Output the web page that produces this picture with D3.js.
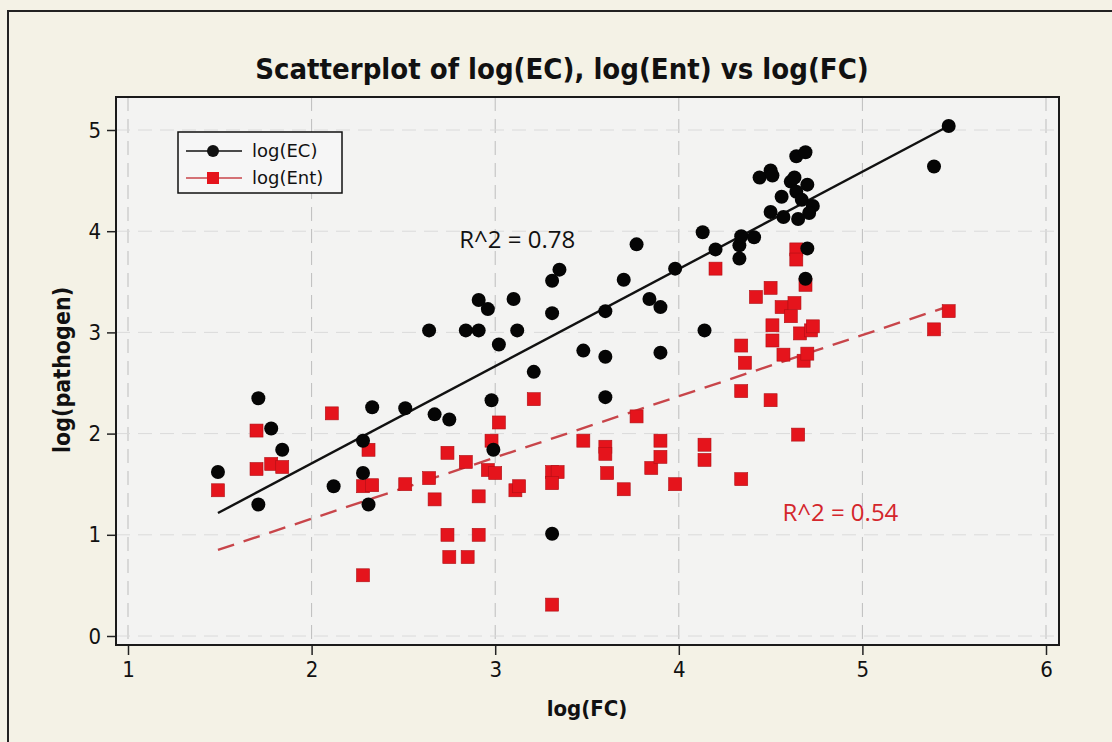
<!DOCTYPE html>
<html>
<head>
<meta charset="utf-8">
<script src="https://cdn.jsdelivr.net/npm/d3@7"></script>
<style>
  html, body { margin: 0; padding: 0; background: #f4f2e6; }
  svg { display: block; }
  .tick text { font-family: "DejaVu Sans Condensed", "DejaVu Sans", sans-serif; font-stretch: condensed; }
</style>
</head>
<body>
<div id="chart"></div>
<script>
// log(FC) vs log(EC)
const ecX = [1.49, 1.71, 1.71, 1.78, 1.84, 2.12, 2.28, 2.28, 2.31, 2.33, 2.51, 2.64, 2.67, 2.75, 2.84,
  2.91, 2.91, 2.96, 2.98, 2.99, 3.02, 3.10, 3.12, 3.21, 3.31, 3.35, 3.31, 3.31, 3.48, 3.60,
  3.60, 3.60, 3.70, 3.77, 3.84, 3.90, 3.90, 3.98, 4.13, 4.14, 4.20, 4.33, 4.33, 4.34, 4.41,
  4.44, 4.50, 4.51, 4.50, 4.56, 4.57, 4.61, 4.63, 4.64, 4.64, 4.69, 4.70, 4.67, 4.73, 4.71,
  4.65, 4.70, 4.69, 5.39, 5.47];
const ecY = [1.62, 2.35, 1.30, 2.05, 1.84, 1.48, 1.93, 1.61, 1.30, 2.26, 2.25, 3.02, 2.19, 2.14, 3.02,
  3.02, 3.32, 3.23, 2.33, 1.84, 2.88, 3.33, 3.02, 2.61, 3.51, 3.62, 3.19, 1.01, 2.82, 3.21,
  2.76, 2.36, 3.52, 3.87, 3.33, 3.25, 2.80, 3.63, 3.99, 3.02, 3.82, 3.86, 3.73, 3.95, 3.94,
  4.53, 4.60, 4.55, 4.19, 4.34, 4.14, 4.49, 4.53, 4.39, 4.74, 4.78, 4.46, 4.31, 4.25, 4.18,
  4.12, 3.83, 3.53, 4.64, 5.04];

// log(FC) vs log(Ent)
const entX = [1.49, 1.70, 1.70, 1.78, 1.84, 2.11, 2.31, 2.28, 2.33, 2.28, 2.51, 2.64, 2.67, 2.74, 2.74,
  2.75, 2.84, 2.85, 2.91, 2.91, 2.96, 2.98, 3.00, 3.02, 3.11, 3.13, 3.21, 3.31, 3.34, 3.31,
  3.31, 3.48, 3.60, 3.60, 3.61, 3.70, 3.77, 3.85, 3.90, 3.90, 3.98, 4.14, 4.14, 4.20, 4.34,
  4.36, 4.34, 4.34, 4.42, 4.50, 4.50, 4.51, 4.51, 4.56, 4.57, 4.61, 4.63, 4.64, 4.64, 4.65,
  4.66, 4.68, 4.69, 4.70, 4.72, 4.73, 5.39, 5.47];
const entY = [1.44, 2.03, 1.65, 1.70, 1.67, 2.20, 1.84, 1.48, 1.49, 0.60, 1.50, 1.56, 1.35, 1.81, 1.00,
  0.78, 1.72, 0.78, 1.38, 1.00, 1.64, 1.93, 1.61, 2.11, 1.44, 1.48, 2.34, 1.62, 1.62, 1.51,
  0.31, 1.93, 1.87, 1.80, 1.61, 1.45, 2.17, 1.66, 1.93, 1.77, 1.50, 1.89, 1.74, 3.63, 2.87,
  2.70, 2.42, 1.55, 3.35, 3.44, 2.33, 3.07, 2.92, 3.25, 2.78, 3.16, 3.29, 3.82, 3.72, 1.99,
  2.99, 2.72, 3.47, 2.79, 3.02, 3.06, 3.03, 3.21];

// fitted lines (intercept, slope) and R^2 labels
const ecFit = { a: -0.217, b: 0.961, r2: "R^2 = 0.78", labelX: 3.12, labelY: 3.91 };
const entFit = { a: -0.051, b: 0.605, r2: "R^2 = 0.54", labelX: 4.88, labelY: 1.22 };

const xTicks = [1, 2, 3, 4, 5, 6];
const yTicks = [0, 1, 2, 3, 4, 5];

const W = 1112, H = 742;
const plot = { left: 116, right: 1059, top: 97, bottom: 645 };

const svg = d3.select("#chart").append("svg")
    .attr("width", W)
    .attr("height", H);

// outer frame
svg.append("rect")
    .attr("x", 8).attr("y", 11)
    .attr("width", W + 20).attr("height", H + 20)
    .attr("fill", "#f4f2e6")
    .attr("stroke", "#222").attr("stroke-width", 2);

const x = d3.scaleLinear().domain([1, 6]).range([128, 1046]);
const y = d3.scaleLinear().domain([0, 5]).range([636, 130]);

svg.append("rect")
    .attr("x", plot.left).attr("y", plot.top)
    .attr("width", plot.right - plot.left).attr("height", plot.bottom - plot.top)
    .attr("fill", "#f3f3f2");

// grid
svg.append("g").selectAll("line")
    .data(xTicks).enter().append("line")
    .attr("x1", d => x(d)).attr("x2", d => x(d))
    .attr("y1", plot.top).attr("y2", plot.bottom)
    .attr("stroke", "#bdbdbd").attr("stroke-width", 1)
    .attr("stroke-dasharray", "14,8");

svg.append("g").selectAll("line")
    .data(yTicks).enter().append("line")
    .attr("y1", d => y(d)).attr("y2", d => y(d))
    .attr("x1", plot.left).attr("x2", plot.right)
    .attr("stroke", "#dadada").attr("stroke-width", 1)
    .attr("stroke-dasharray", "14,8");

// axes
const axisX = d3.axisBottom(x).tickValues(xTicks).tickSize(10).tickPadding(6).tickFormat(d3.format("d"));
const axisY = d3.axisLeft(y).tickValues(yTicks).tickSize(9).tickPadding(6).tickFormat(d3.format("d"));

const gx = svg.append("g")
    .attr("transform", "translate(0," + plot.bottom + ")")
    .call(axisX);
gx.select(".domain").remove();
gx.selectAll(".tick line").attr("stroke", "#222").attr("stroke-width", 1.5);
gx.selectAll(".tick text").attr("font-size", 22).attr("fill", "#111");

const gy = svg.append("g")
    .attr("transform", "translate(" + plot.left + ",0)")
    .call(axisY);
gy.select(".domain").remove();
gy.selectAll(".tick line").attr("stroke", "#222").attr("stroke-width", 1.5);
gy.selectAll(".tick text").attr("font-size", 22).attr("fill", "#111");

// plot frame
svg.append("rect")
    .attr("x", plot.left).attr("y", plot.top)
    .attr("width", plot.right - plot.left).attr("height", plot.bottom - plot.top)
    .attr("fill", "none")
    .attr("stroke", "#1a1a1a").attr("stroke-width", 2);

// fit lines
function fitLine(fx, fit) {
    const ext = d3.extent(fx);
    return ext.map(v => [x(v), y(fit.a + fit.b * v)]);
}
svg.append("path")
    .attr("d", d3.line()(fitLine(ecX, ecFit)))
    .attr("stroke", "#111").attr("stroke-width", 2.4).attr("fill", "none");
svg.append("path")
    .attr("d", d3.line()(fitLine(entX, entFit)))
    .attr("stroke", "#c8454a").attr("stroke-width", 2.4).attr("fill", "none")
    .attr("stroke-dasharray", "17,10");

// points
const sq = 13;
svg.append("g").selectAll("rect")
    .data(entX.map((v, i) => [v, entY[i]]))
    .enter().append("rect")
    .attr("x", d => x(d[0]) - sq / 2)
    .attr("y", d => y(d[1]) - sq / 2)
    .attr("width", sq).attr("height", sq)
    .attr("fill", "#e5141c")
    .attr("stroke", "#b01016").attr("stroke-width", 0.6);

svg.append("g").selectAll("circle")
    .data(ecX.map((v, i) => [v, ecY[i]]))
    .enter().append("circle")
    .attr("cx", d => x(d[0]))
    .attr("cy", d => y(d[1]))
    .attr("r", 7)
    .attr("fill", "#050505");

// R^2 labels
svg.append("text")
    .attr("x", x(ecFit.labelX)).attr("y", y(ecFit.labelY) + 8)
    .attr("text-anchor", "middle")
    .attr("font-family", "'Open Sans', 'Liberation Sans', sans-serif")
    .attr("font-size", 24).attr("fill", "#111")
    .text(ecFit.r2);
svg.append("text")
    .attr("x", x(entFit.labelX)).attr("y", y(entFit.labelY) + 8)
    .attr("text-anchor", "middle")
    .attr("font-family", "'Open Sans', 'Liberation Sans', sans-serif")
    .attr("font-size", 24).attr("fill", "#d4262c")
    .text(entFit.r2);

// legend
const legend = svg.append("g").attr("transform", "translate(178,132)");
legend.append("rect")
    .attr("width", 164).attr("height", 61)
    .attr("fill", "#f6f6f6").attr("stroke", "#111").attr("stroke-width", 1.5);
const legendRows = [
    { label: "log(EC)", color: "#111", shape: "circle" },
    { label: "log(Ent)", color: "#e5141c", shape: "square" }
];
legendRows.forEach((r, i) => {
    const ly = 19 + i * 27;
    legend.append("line")
        .attr("x1", 8).attr("x2", 64).attr("y1", ly).attr("y2", ly)
        .attr("stroke", i === 0 ? "#111" : "#c8454a").attr("stroke-width", 1.5);
    if (r.shape === "circle") {
        legend.append("circle").attr("cx", 35).attr("cy", ly).attr("r", 6).attr("fill", r.color);
    } else {
        legend.append("rect").attr("x", 29).attr("y", ly - 6).attr("width", 12).attr("height", 12)
            .attr("fill", r.color);
    }
    legend.append("text")
        .attr("x", 74).attr("y", ly + 6)
        .attr("font-family", "'DejaVu Sans', Verdana, sans-serif")
        .attr("font-size", 18).attr("fill", "#111")
        .text(r.label);
});

// titles
svg.append("text")
    .attr("x", 562).attr("y", 79)
    .attr("text-anchor", "middle")
    .attr("font-family", "'DejaVu Sans Condensed', 'DejaVu Sans', sans-serif")
    .style("font-stretch", "condensed")
    .attr("font-weight", "bold")
    .attr("font-size", 29).attr("fill", "#111")
    .text("Scatterplot of log(EC), log(Ent) vs log(FC)");

svg.append("text")
    .attr("x", 587).attr("y", 716)
    .attr("text-anchor", "middle")
    .attr("font-family", "'DejaVu Sans Condensed', 'DejaVu Sans', sans-serif")
    .style("font-stretch", "condensed")
    .attr("font-weight", "bold")
    .attr("font-size", 22).attr("fill", "#111")
    .text("log(FC)");

svg.append("text")
    .attr("transform", "translate(70,370) rotate(-90)")
    .attr("text-anchor", "middle")
    .attr("font-family", "'DejaVu Sans Condensed', 'DejaVu Sans', sans-serif")
    .style("font-stretch", "condensed")
    .attr("font-weight", "bold")
    .attr("font-size", 23).attr("fill", "#111")
    .text("log(pathogen)");
</script>
</body>
</html>
